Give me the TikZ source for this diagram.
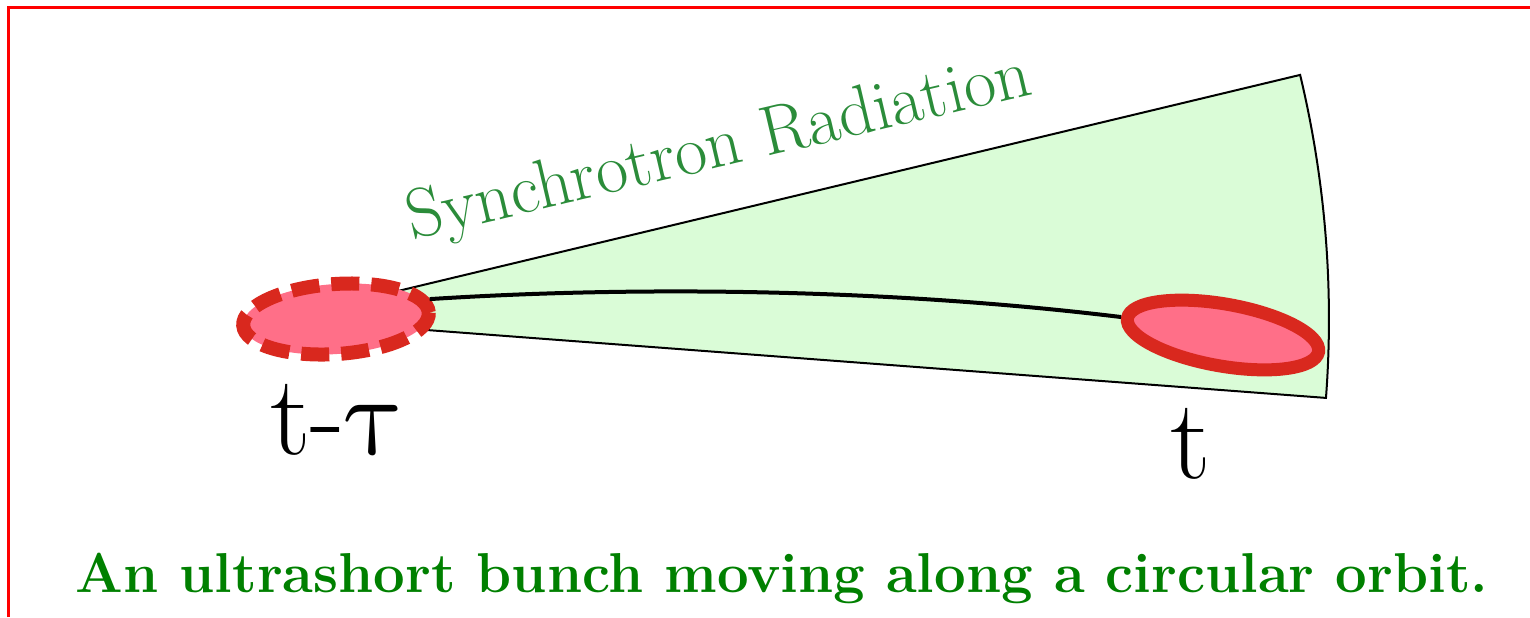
\documentclass[tikz,border=0pt]{standalone}
\usepackage{fontspec}
\newfontfamily\greekfont{Latin Modern Math}
\usetikzlibrary{shapes.geometric}
\definecolor{clrframe}{HTML}{FF0000}
\definecolor{clrfan}{HTML}{DAFCD7}
\definecolor{clrbunch}{HTML}{FF6F88}
\definecolor{clrbunchedge}{HTML}{D9281E}
\definecolor{clrradiation}{HTML}{2B8C3A}
\definecolor{clrcaption}{HTML}{008000}

\begin{document}
\begin{tikzpicture}[
    x=0.5pt, y=0.5pt,
    bunch/.style={ellipse, inner sep=0, fill=clrbunch, draw=clrbunchedge},
    orbit/.style={line width=2pt, black},
    fan/.style={draw=black, line width=1pt, fill=clrfan, line join=miter},
    timelabel/.style={inner sep=0, font=\rmfamily\fontsize{57}{60}\selectfont},
    radtext/.style={inner sep=0, text=clrradiation, font=\rmfamily\fontsize{35}{38}\selectfont},
    caption/.style={inner sep=0, text=clrcaption, font=\bfseries\fontsize{28.1}{30}\selectfont},
]
\useasboundingbox (0,0) rectangle (1530,-617);
\draw[clrframe, line width=1.5pt] (8.5,-617) -- (8.5,-7.5) -- (1530,-7.5);
% radiation fan
\coordinate (apex) at (281,-319);
\draw[fan] (apex) -- ++(13.47:1048) arc[start angle=13.47, end angle=-4.32, radius=1048] -- cycle;
% bunches
\node[bunch, minimum width=93pt, minimum height=35pt, rotate=4, line width=7pt, dash pattern=on 14pt off 6pt] (bunchold) at (336,-319) {};
\node[bunch, minimum width=97pt, minimum height=31pt, rotate=-10, line width=6.5pt] (bunchnow) at (1223,-335) {};
\draw[orbit] (bunchold.8) .. controls (650,-285) and (900,-290) .. (bunchnow.west);
% labels
\node[radtext, anchor=base west, rotate=13.2] (radlabel) at (412,-240) {Synchrotron Radiation};
\node[timelabel, anchor=base] (lbold) at (338,-454) {t-{\greekfont τ}};
\node[timelabel, anchor=base] (lbnow) at (1191,-478) {t};
\node[caption, anchor=base] (captext) at (782,-592) {An ultrashort bunch moving along a circular orbit.};
\end{tikzpicture}
\end{document}
